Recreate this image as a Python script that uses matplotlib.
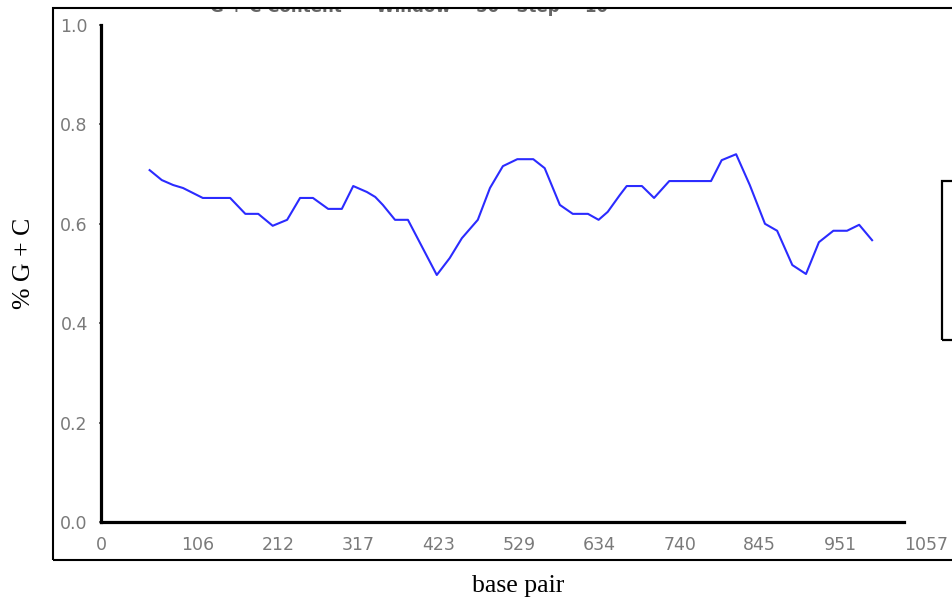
import matplotlib
matplotlib.use("Agg")
import matplotlib.pyplot as plt
from matplotlib.patches import Rectangle

# Data (base pair position, fraction G + C)
bp = [64, 80, 95, 108, 134, 170, 190, 207, 226, 245, 262, 279, 299, 317, 332,
      350, 361, 371, 387, 404, 442, 459, 475, 496, 512, 529, 548, 569, 584,
      604, 621, 641, 655, 667, 683, 692, 712, 728, 748, 803, 817, 836, 854,
      874, 890, 910, 928, 945, 964, 982, 998, 1015]
gc = [0.708, 0.688, 0.678, 0.672, 0.652, 0.652, 0.620, 0.620, 0.596, 0.608,
      0.652, 0.652, 0.630, 0.630, 0.676, 0.664, 0.654, 0.638, 0.608, 0.608,
      0.497, 0.531, 0.571, 0.608, 0.672, 0.716, 0.730, 0.730, 0.712, 0.638,
      0.620, 0.620, 0.608, 0.624, 0.658, 0.676, 0.676, 0.652, 0.686, 0.686,
      0.728, 0.740, 0.678, 0.600, 0.586, 0.517, 0.499, 0.563, 0.586, 0.586,
      0.598, 0.567]
xtick_vals = [0, 106, 212, 317, 423, 529, 634, 740, 845, 951, 1057]
xtick_labels = [str(v) for v in xtick_vals]
ytick_vals = [0.0, 0.2, 0.4, 0.6, 0.8, 1.0]
ytick_labels = ["0.0", "0.2", "0.4", "0.6", "0.8", "1.0"]
title = "G + C Content      Window = 50   Step = 10"

W, H = 952, 602
fig = plt.figure(figsize=(W / 100, H / 100), dpi=100)
fig.patch.set_facecolor("white")

ax = fig.add_axes([101 / W, (H - 522) / H, 803 / W, 497 / H])
ax.plot(bp, gc, color="#2b2bff", lw=1.5)
ax.set_xlim(0, 1057)
ax.set_ylim(0, 1)
for s in ("top", "right"):
    ax.spines[s].set_visible(False)
for s in ("left", "bottom"):
    ax.spines[s].set_linewidth(2.3)
    ax.spines[s].set_color("black")

grey = "#7a7a7a"
ax.set_xticks(xtick_vals)
ax.set_xticklabels(xtick_labels)
ax.tick_params(axis="x", length=0, pad=10, labelsize=12.5, labelcolor=grey)
for i, lab in enumerate(ax.get_xticklabels()):
    lab.set_horizontalalignment("center" if i == 0 else "left")
ax.set_yticks(ytick_vals)
ax.set_yticklabels(ytick_labels)
ax.tick_params(axis="y", length=1.5, width=1.2, color="#555555", pad=8,
               labelsize=12.5, labelcolor=grey)

# title mostly cut off at the top
fig.text(210 / W, 1 - 12 / H, title, fontsize=12, fontweight="bold",
         color="#666666", ha="left", va="baseline", zorder=3)
# white mask hiding the upper part of the title
fig.add_artist(Rectangle((0, (H - 9) / H), 1, 9 / H, transform=fig.transFigure,
                         facecolor="white", edgecolor="none", zorder=10))

# outer frame (extends beyond right edge)
fig.add_artist(Rectangle((53 / W, (H - 560) / H), (1010 - 53) / W, (560 - 8) / H,
                         transform=fig.transFigure, fill=False, lw=1.5,
                         edgecolor="black", clip_on=False, zorder=11))
# partial legend box at right edge
fig.add_artist(Rectangle((942 / W, (H - 340) / H), 40 / W, 159 / H,
                         transform=fig.transFigure, fill=False, lw=1.6,
                         edgecolor="black", clip_on=False, zorder=11))

fig.text(518 / W, 1 - 592 / H, "base pair", family="Liberation Serif",
         fontsize=18.5, ha="center", va="baseline")
fig.text(24 / W, 1 - 263 / H, "% G + C", family="Liberation Serif",
         fontsize=18.5, rotation=90, ha="center", va="center")

fig.savefig("out.png", dpi=100, facecolor="white")
